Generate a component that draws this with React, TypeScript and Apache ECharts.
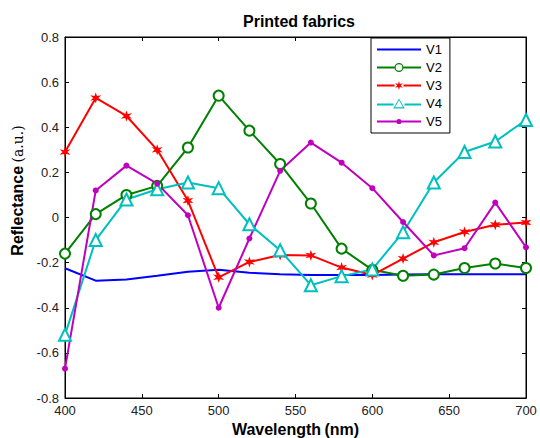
import React, { useEffect, useRef } from "react";
import * as echarts from "echarts";

const wavelengths = [400, 420, 440, 460, 480, 500, 520, 540, 560, 580, 600, 620, 640, 660, 680, 700];
const v1 = [-0.225, -0.28, -0.275, -0.258, -0.24, -0.232, -0.245, -0.252, -0.255, -0.255, -0.255, -0.253, -0.252, -0.252, -0.252, -0.252];
const v2 = [-0.16, 0.015, 0.1, 0.14, 0.31, 0.54, 0.385, 0.237, 0.062, -0.138, -0.232, -0.258, -0.253, -0.224, -0.204, -0.224];
const v3 = [0.29, 0.53, 0.45, 0.3, 0.075, -0.265, -0.197, -0.166, -0.168, -0.222, -0.255, -0.182, -0.11, -0.064, -0.032, -0.022];
const v4 = [-0.52, -0.1, 0.08, 0.125, 0.155, 0.13, -0.03, -0.145, -0.3, -0.26, -0.23, -0.065, 0.155, 0.29, 0.337, 0.432];
const v5 = [-0.67, 0.12, 0.23, 0.15, 0.01, -0.4, -0.093, 0.207, 0.332, 0.243, 0.13, -0.02, -0.168, -0.136, 0.066, -0.132];
const seriesNames = ["V1", "V2", "V3", "V4", "V5"];
const yTicks = { min: -0.8, max: 0.8, interval: 0.2 };
const xTicks = { min: 400, max: 700, interval: 50 };

const FONT = "Liberation Sans, Arial, sans-serif";
const STAR = "path://M0,-10 L2,-3.5 L8.7,-5 L4,0 L8.7,5 L2,3.5 L0,10 L-2,3.5 L-8.7,5 L-4,0 L-8.7,-5 L-2,-3.5 Z";

// legend icons: 44 wide, centred at y = 7
const seg = (x0: number, x1: number) => `M${x0},6 L${x1},6 L${x1},8 L${x0},8 Z`;
const circ = (r: number, rev: boolean) => {
  const s = rev ? 1 : 0;
  return `M${22 + r},7 A${r},${r} 0 1,${s} ${22 - r},7 A${r},${r} 0 1,${s} ${22 + r},7 Z`;
};
const tri = (h: number, rev: boolean) => {
  const w = h * 1.15;
  const top = 7 - h * 0.6;
  const bot = 7 + h * 0.4;
  return rev
    ? `M22,${top} L${22 - w / 2},${bot} L${22 + w / 2},${bot} Z`
    : `M22,${top} L${22 + w / 2},${bot} L${22 - w / 2},${bot} Z`;
};
const starAt = (r: number) => {
  const pts: string[] = [];
  for (let i = 0; i < 12; i++) {
    const a = (Math.PI / 6) * i - Math.PI / 2;
    const rr = i % 2 === 0 ? r : r * 0.4;
    pts.push(`${(22 + rr * Math.cos(a)).toFixed(2)},${(7 + rr * Math.sin(a)).toFixed(2)}`);
  }
  return "M" + pts.join(" L") + " Z";
};
const PAD = " M0,1 L0.01,1 L0.01,1.01 Z M0,13 L0.01,13 L0.01,13.01 Z";
const ICONS: Record<string, string> = {
  V1: "path://" + seg(0, 44) + PAD,
  V2: "path://" + seg(0, 17.6) + " " + seg(26.4, 44) + " " + circ(4.5, false) + " " + circ(3.3, true),
  V3: "path://" + seg(0, 17.6) + " " + seg(26.4, 44) + " " + starAt(4.5) + PAD,
  V4: "path://" + seg(0, 16.5) + " " + seg(27.5, 44) + " " + tri(10, false) + " " + tri(7, true),
  V5: "path://" + seg(0, 19.5) + " " + seg(24.5, 44) + " " + circ(2.6, false) + PAD,
};

export default function App() {
  const ref = useRef<HTMLDivElement>(null);
  useEffect(() => {
    if (!ref.current) return;
    const chart = echarts.init(ref.current, null, { renderer: "svg" });
    const pair = (arr: number[]) => wavelengths.map((w, i) => [w, arr[i]]);
    const lineBase = { type: "line", lineStyle: { width: 2 }, xAxisIndex: 0, yAxisIndex: 0 };
    chart.setOption({
      animation: false,
      backgroundColor: "#fff",
      textStyle: { fontFamily: FONT },
      title: {
        text: "Printed fabrics",
        left: 294,
        textAlign: "center",
        top: 8,
        textStyle: { fontFamily: FONT, fontSize: 16, fontWeight: "bold", color: "#000" },
      },
      grid: {
        left: 65,
        right: 14,
        top: 37,
        bottom: 40,
        outerBoundsMode: "none",
        containLabel: false,
        show: true,
        borderColor: "#000",
        borderWidth: 1,
      },
      legend: {
        orient: "vertical",
        left: 371,
        top: 38,
        itemWidth: 44,
        itemHeight: 14,
        itemGap: 5,
        padding: [5, 8, 5, 6],
        borderColor: "#000",
        borderWidth: 1,
        backgroundColor: "#fff",
        itemStyle: { borderWidth: 0 },
        textStyle: { fontFamily: FONT, fontSize: 13, color: "#000" },
        data: seriesNames.map((n) => ({ name: n, icon: ICONS[n] })),
      },
      xAxis: [
        {
          type: "value",
          min: xTicks.min,
          max: xTicks.max,
          interval: xTicks.interval,
          name: "{b|Wavelength} {n|(nm)}",
          nameLocation: "middle",
          nameGap: 20,
          nameTextStyle: {
            rich: {
              b: { fontFamily: FONT, fontSize: 16, fontWeight: "bold", color: "#000" },
              n: { fontFamily: FONT, fontSize: 16, fontWeight: "bold", color: "#000" },
            },
          },
          axisLine: { onZero: false, lineStyle: { color: "#000" } },
          axisTick: { inside: true, length: 4, lineStyle: { color: "#000" } },
          axisLabel: { fontFamily: FONT, fontSize: 13, color: "#222", margin: 6 },
          splitLine: { show: false },
        },
        {
          type: "value",
          position: "top",
          min: xTicks.min,
          max: xTicks.max,
          interval: xTicks.interval,
          axisLine: { onZero: false, lineStyle: { color: "#000" } },
          axisTick: { inside: true, length: 4, lineStyle: { color: "#000" } },
          axisLabel: { show: false },
          splitLine: { show: false },
        },
      ],
      yAxis: [
        {
          type: "value",
          min: yTicks.min,
          max: yTicks.max,
          interval: yTicks.interval,
          name: "{b|Reflectance} {n|(a.u.)}",
          nameLocation: "middle",
          nameGap: 37,
          nameTextStyle: {
            padding: [0, 0, 0, 54],
            rich: {
              b: { fontFamily: FONT, fontSize: 16, fontWeight: "bold", color: "#000" },
              n: { fontFamily: "DejaVu Serif, serif", fontSize: 14, color: "#000" },
            },
          },
          axisLine: { onZero: false, lineStyle: { color: "#000" } },
          axisTick: { inside: true, length: 4, lineStyle: { color: "#000" } },
          axisLabel: {
            fontFamily: FONT,
            fontSize: 13,
            color: "#222",
            margin: 6,
            formatter: (v: number) => (Math.abs(v) < 1e-9 ? "0" : v.toFixed(1)),
          },
          splitLine: { show: false },
        },
        {
          type: "value",
          position: "right",
          min: yTicks.min,
          max: yTicks.max,
          interval: yTicks.interval,
          axisLine: { onZero: false, lineStyle: { color: "#000" } },
          axisTick: { inside: true, length: 4, lineStyle: { color: "#000" } },
          axisLabel: { show: false },
          splitLine: { show: false },
        },
      ],
      series: [
        { ...lineBase, name: seriesNames[0], data: pair(v1), color: "#0000ff", symbol: "none", showSymbol: false },
        { ...lineBase, name: seriesNames[1], data: pair(v2), color: "#008000", symbol: "emptyCircle", symbolSize: 10, itemStyle: { borderWidth: 2 } },
        { ...lineBase, name: seriesNames[2], data: pair(v3), color: "#ff0000", symbol: STAR, symbolSize: 11 },
        { ...lineBase, name: seriesNames[3], data: pair(v4), color: "#00bfbf", symbol: "emptyTriangle", symbolSize: 12, itemStyle: { borderWidth: 2 } },
        { ...lineBase, name: seriesNames[4], data: pair(v5), color: "#bf00bf", symbol: "circle", symbolSize: 6 },
      ],
    });
    return () => chart.dispose();
  }, []);
  return <div ref={ref} style={{ width: 540, height: 438, position: "absolute", left: 0, top: 0 }} />;
}
